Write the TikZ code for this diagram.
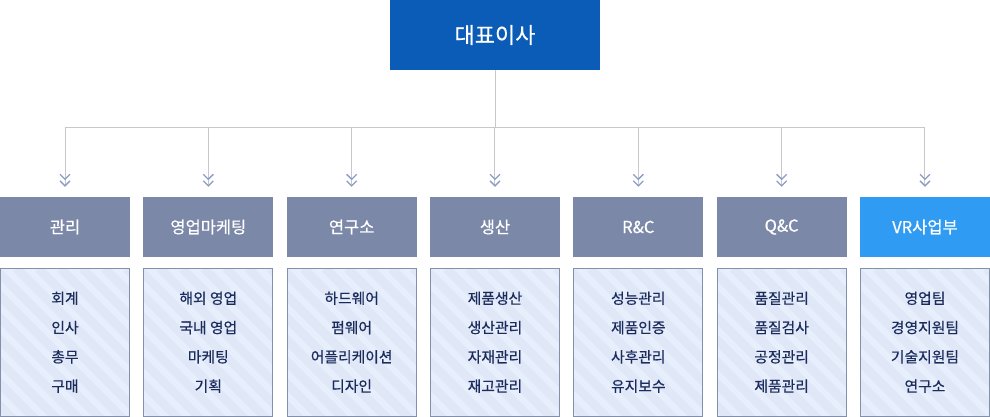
\documentclass[tikz,border=0pt]{standalone}
\usepackage{fontspec}
\setmainfont{Noto Sans CJK KR}
\newfontfamily\medfont{Noto Sans CJK KR}[FakeBold=0.5]
\usetikzlibrary{arrows.meta, positioning}

\definecolor{ceoblue}{HTML}{0B5CB6}
\definecolor{headgray}{HTML}{7C88A8}
\definecolor{headblue}{HTML}{2F9BF2}
\definecolor{listfill}{HTML}{E8EFFC}
\definecolor{liststripe}{HTML}{E0E8F8}
\definecolor{listline}{HTML}{8290AA}
\definecolor{listtext}{HTML}{1B2B5C}
\definecolor{linkgray}{HTML}{C8C8C8}
\definecolor{chevblue}{HTML}{8C9CC6}

\tikzset{
  ceobox/.style={fill=ceoblue, text=white, minimum width=210pt, minimum height=70pt,
    inner sep=0pt, font=\medfont\fontsize{22}{26}\selectfont},
  headbox/.style={fill=headgray, text=white, minimum width=130pt, minimum height=60pt,
    inner sep=0pt, font=\medfont\fontsize{16.5}{20}\selectfont},
  listbox/.style={draw=listline, fill=listfill, text=listtext, line width=1pt,
    minimum width=129pt, minimum height=148pt, inner sep=0pt, align=center,
    font=\medfont\fontsize{14.8}{29.3}\selectfont,
    path picture={\foreach \k in {0,...,15}
      \draw[liststripe, line width=9pt]
        ([xshift=\k*22pt-160pt]path picture bounding box.north west) -- ++(160pt,-160pt);}},
  link/.style={draw=linkgray, line width=1pt},
  chev/.style={-{Straight Barb[length=5pt, width=10pt, line width=1.3pt, color=chevblue]
    Straight Barb[length=5pt, width=10pt, line width=1.3pt, color=chevblue]}}
}

\begin{document}
\begin{tikzpicture}[x=1pt, y=-1pt]
  \useasboundingbox (0,0) rectangle (990,417);
  % CEO
  \node[ceobox] (ceo) at (495,35) {대표이사};
  \coordinate[below=57pt of ceo.south] (bus);
  % Departments
  \foreach \i/\name/\col in {1/관리/headgray, 2/영업마케팅/headgray, 3/연구소/headgray,
      4/생산/headgray, 5/R\&C/headgray, 6/Q\&C/headgray, 7/VR사업부/headblue}
    \node[headbox, fill=\col] (h\i) at ({65+143.33*(\i-1)},227) {\name};
  % Teams
  \foreach \i/\items in {1/{회계\\인사\\총무\\구매},
      2/{해외 영업\\국내 영업\\마케팅\\기획},
      3/{하드웨어\\펌웨어\\어플리케이션\\디자인},
      4/{제품생산\\생산관리\\자재관리\\재고관리},
      5/{성능관리\\제품인증\\사후관리\\유지보수},
      6/{품질관리\\품질검사\\공정관리\\제품관리},
      7/{영업팀\\경영지원팀\\기술지원팀\\연구소}}
    \node[listbox, below=10.5pt of h\i] (l\i) {\items};
  % Connectors
  \draw[link] (ceo) -- (bus);
  \draw[link] (bus -| h1) -- (bus -| h7);
  \foreach \i in {1,...,7}
    \draw[link, chev] (bus -| h\i) -- ([yshift=10pt]h\i.north);
\end{tikzpicture}
\end{document}
